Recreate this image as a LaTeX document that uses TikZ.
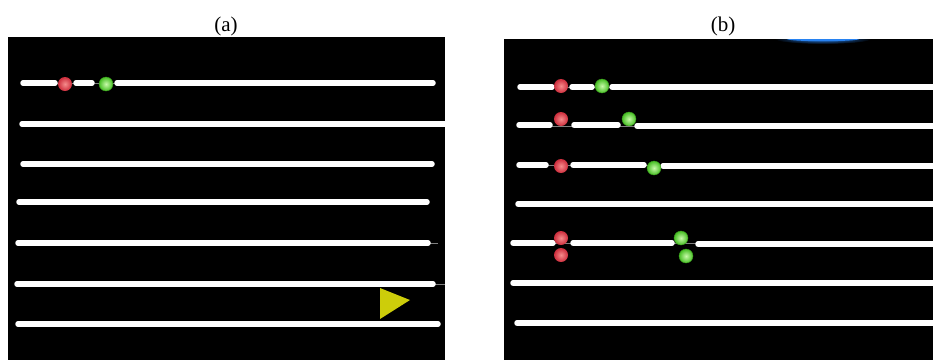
\documentclass[tikz,border=0pt]{standalone}
\usepackage{fontspec}
\setmainfont{Liberation Serif}
\definecolor{rbi}{RGB}{245,140,140}
\definecolor{rbo}{RGB}{205,45,60}
\definecolor{gbo}{RGB}{70,190,35}
\definecolor{gbi}{RGB}{200,250,170}
\definecolor{tri}{RGB}{205,205,10}
\definecolor{glow}{RGB}{40,130,240}
\begin{document}
\begin{tikzpicture}[x=1pt,y=-1pt,
  track/.style={white, line width=5.5pt, line cap=round},
  wire/.style={black!50, line width=0.7pt},
  redball/.style={circle, inner sep=0pt, minimum size=14pt, shading=radial, inner color=rbi, outer color=rbo},
  greenball/.style={circle, inner sep=0pt, minimum size=14pt, shading=radial, inner color=gbi, outer color=gbo, draw=gbo!80!black, line width=0.4pt},
  lab/.style={font=\fontsize{21}{22}\selectfont, anchor=base, inner sep=0pt}]
\useasboundingbox (0,0) rectangle (933,360);
\fill[white] (0,0) rectangle (933,360);
% labels
\node[lab] (la) at (226,31) {(a)};
\node[lab] (lb) at (723,31) {(b)};
% panels
\fill[black] (8,37) rectangle (445,360);
\fill[black] (504,39) rectangle (933,360);
% ---------- panel (a)
\begin{scope}
\clip (8,37) rectangle (445,360);
\draw[wire] (23,83) -- (117,83);
\draw[track] (23,83) -- (55,83);
\draw[track] (76,83) -- (92,83);
\draw[track] (117,83) -- (433,83);
\node[redball] (ra1) at (65,84) {};
\node[greenball] (ga1) at (106,84) {};
\draw[track] (22,124) -- (450,124);
\draw[track] (23,164) -- (432,164);
\draw[track] (19,202) -- (427,202);
\draw[wire] (428,243) -- (438,243);
\draw[track] (18,243) -- (428,243);
\draw[wire] (433,284) -- (445,284);
\draw[track] (17,284) -- (433,284);
\draw[track] (18,324) -- (438,324);
\fill[tri] (380,288) -- (380,319) -- (410,300) -- cycle;
\end{scope}
% ---------- panel (b)
\begin{scope}
\clip (504,39) rectangle (933,360);
\shade[inner color=glow, outer color=black] (823,39) ellipse [x radius=48pt, y radius=5pt];
\fill[glow] (823,39) ellipse [x radius=36pt, y radius=2.2pt];
% track 1
\draw[wire] (520,87) -- (612,87);
\draw[track] (520,87) -- (552,87);
\draw[track] (572,87) -- (592,87);
\draw[track] (612,87) -- (940,87);
\node[redball] (rb1) at (561,86) {};
\node[greenball] (gb1) at (602,86) {};
% track 2
\draw[wire] (519,126) -- (637,126);
\draw[track] (519,125) -- (550,125);
\draw[track] (574,125) -- (618,125);
\draw[track] (637,126) -- (940,126);
\node[redball] (rb2) at (561,119) {};
\node[greenball] (gb2) at (629,119) {};
% track 3
\draw[wire] (519,165) -- (663,165);
\draw[track] (519,165) -- (546,165);
\draw[track] (573,165) -- (644,165);
\draw[track] (663,166) -- (940,166);
\node[redball] (rb3) at (561,166) {};
\node[greenball] (gb3) at (654,168) {};
% track 4
\draw[track] (518,204) -- (940,204);
% track 5
\draw[wire] (513,243) -- (698,243);
\draw[track] (513,243) -- (553,243);
\draw[track] (573,243) -- (672,243);
\draw[track] (698,244) -- (940,244);
\node[redball] (rb5a) at (561,238) {};
\node[redball] (rb5b) at (561,255) {};
\node[greenball] (gb5a) at (681,238) {};
\node[greenball] (gb5b) at (686,256) {};
% tracks 6, 7
\draw[track] (513,283) -- (940,283);
\draw[track] (517,323) -- (940,323);
\end{scope}
\end{tikzpicture}
\end{document}
